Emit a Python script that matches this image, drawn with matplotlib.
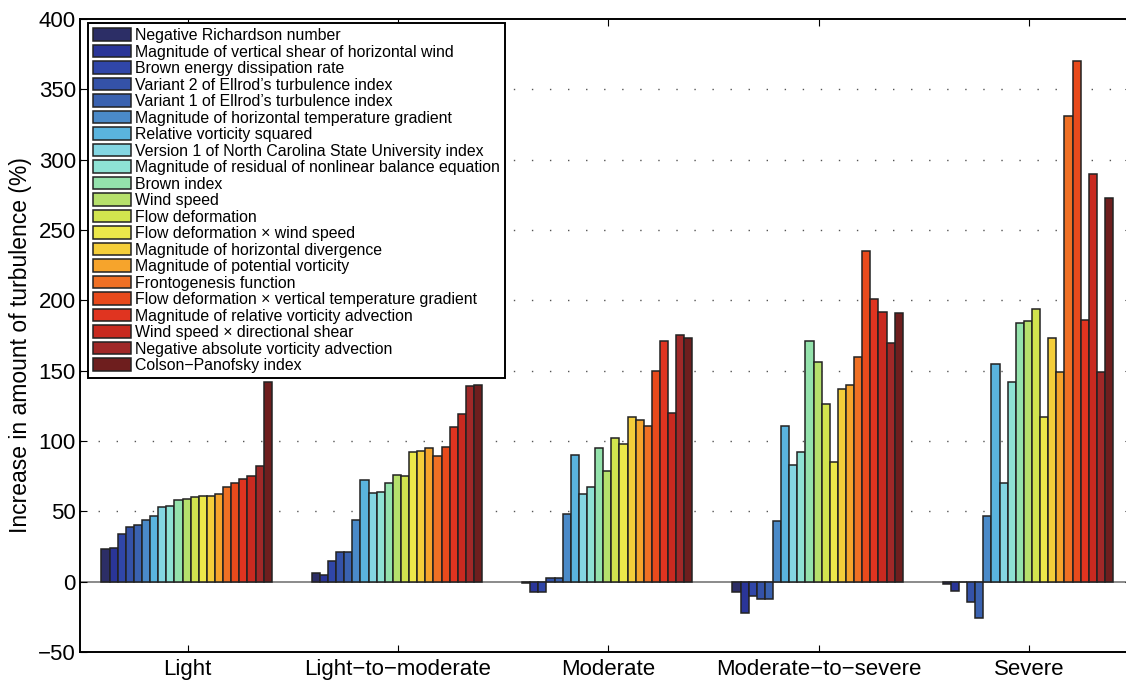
import numpy as np
import matplotlib
matplotlib.use("Agg")
from matplotlib import pyplot as plt

plt.rcParams['font.family'] = ['Liberation Sans', 'DejaVu Sans']

# Turbulence intensity categories on the x axis
categories = ['Light', 'Light\u2212to\u2212moderate', 'Moderate',
              'Moderate\u2212to\u2212severe', 'Severe']

# One label per diagnostic (legend order = bar order inside each group)
diagnostics = [
    'Negative Richardson number',
    'Magnitude of vertical shear of horizontal wind',
    'Brown energy dissipation rate',
    'Variant 2 of Ellrod\u2019s turbulence index',
    'Variant 1 of Ellrod\u2019s turbulence index',
    'Magnitude of horizontal temperature gradient',
    'Relative vorticity squared',
    'Version 1 of North Carolina State University index',
    'Magnitude of residual of nonlinear balance equation',
    'Brown index',
    'Wind speed',
    'Flow deformation',
    'Flow deformation \u00d7 wind speed',
    'Magnitude of horizontal divergence',
    'Magnitude of potential vorticity',
    'Frontogenesis function',
    'Flow deformation \u00d7 vertical temperature gradient',
    'Magnitude of relative vorticity advection',
    'Wind speed \u00d7 directional shear',
    'Negative absolute vorticity advection',
    'Colson\u2212Panofsky index',
]

colors = ['#2c2e66', '#2a3598', '#3046a8', '#3452a8', '#3a62b0',
          '#4a8ac8', '#5ab4de', '#84d6e2', '#8ee2d4', '#94e2ac',
          '#b6e06c', '#d2e44e', '#ece84a', '#f4ce3a', '#f6a42c',
          '#f07024', '#e84a1c', '#e03420', '#c82a20', '#a02828',
          '#6e1e1e']

# Increase in amount of turbulence (%) per category, one row per diagnostic
light = [23, 24, 34, 39, 40, 44, 47, 53, 54, 58, 59, 60, 61, 61, 62,
         67, 70, 73, 75, 82, 142]
light_mod = [6, 5, 15, 21, 21, 44, 72, 63, 64, 70, 76, 75, 92, 93, 95,
             89, 96, 110, 119, 139, 140]
moderate = [-1, -7.5, -7.5, 2.5, 2.3, 48, 90, 62, 67, 95, 79, 102, 98,
            117, 115, 111, 150, 171, 120, 175, 173]
mod_sev = [-7.5, -22, -10.5, -12, -12, 43, 111, 83, 92, 171, 156, 126,
           85, 137, 140, 160, 235, 201, 192, 170, 191]
severe = [-2, -6.5, 0, -14.5, -26, 47, 155, 70, 142, 184, 185, 194, 117,
          173, 149, 331, 370, 186, 290, 149, 273]

yticks = [-50, 0, 50, 100, 150, 200, 250, 300, 350, 400]

data = np.array([light, light_mod, moderate, mod_sev, severe])

fig = plt.figure(figsize=(11.26, 6.81), dpi=100)
ax = fig.add_axes([80 / 1126, 29 / 681, 1052 / 1126, 633 / 681])

ngroups, nbars = data.shape
group_x = np.arange(1, ngroups + 1)
width = 0.81 / nbars

# dotted grid, only the inner lines
for yv in yticks[2:-1]:
    ax.axhline(yv, color='#555555', lw=1.0, ls=(0, (1, 12)), zorder=0)
ax.axhline(0, color='#777777', lw=1.2, zorder=1)

for i in range(nbars):
    xs = group_x - 0.41 + width * (i + 0.5)
    ax.bar(xs, data[:, i], width=width, color=colors[i], edgecolor='#222222',
           linewidth=1.1, label=diagnostics[i], zorder=2)

ax.set_xlim(0.488, 5.49)
ax.set_ylim(-50, 400)
ax.set_yticks(yticks)
ax.set_xticks(group_x)
ax.set_xticklabels(categories)
ax.tick_params(axis='both', direction='in', labelsize=16, length=5,
               top=True, right=True)
ax.tick_params(axis='y', pad=3)
ax.tick_params(axis='x', pad=5)
for s in ax.spines.values():
    s.set_linewidth(1.4)
ax.set_ylabel('Increase in amount of turbulence (%)', fontsize=16.5)
ax.yaxis.set_label_coords(-0.046, 0.485)

leg = ax.legend(loc='upper left', bbox_to_anchor=(8 / 1052, 1 - 4 / 633),
                fontsize=11.4, frameon=True, fancybox=False,
                handlelength=2.4, handleheight=0.85, handletextpad=0.25,
                labelspacing=0.095, borderpad=0.32, borderaxespad=0)
leg.get_frame().set_edgecolor('black')
leg.get_frame().set_linewidth(1.4)
leg.get_frame().set_alpha(1)
leg.set_zorder(5)

fig.savefig('out.png', dpi=100)
